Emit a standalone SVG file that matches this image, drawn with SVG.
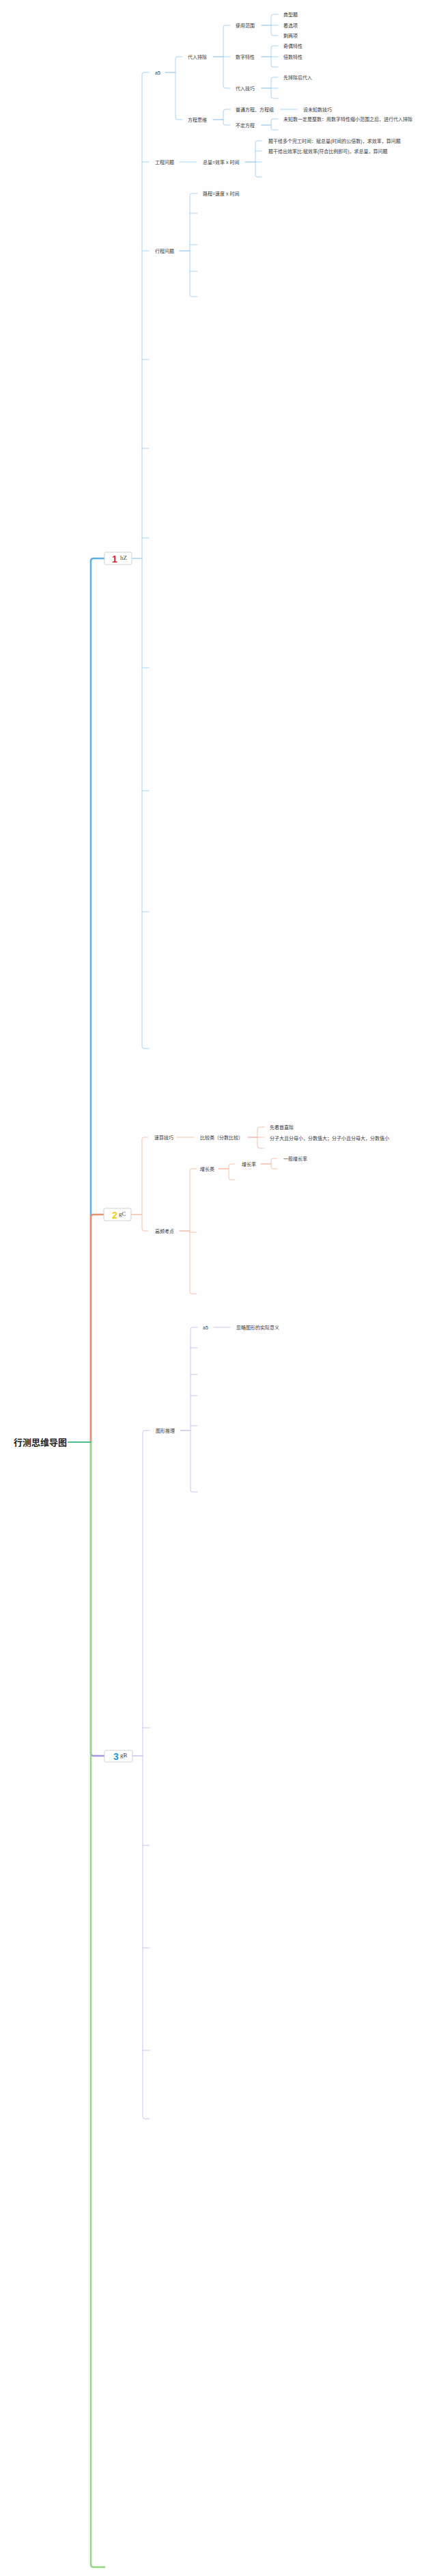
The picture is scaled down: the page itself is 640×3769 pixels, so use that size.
<svg xmlns="http://www.w3.org/2000/svg" width="640" height="3769" viewBox="0 0 640 3769">
<style>
.t{font-family:"Liberation Sans","Noto Sans CJK SC",sans-serif;font-size:7px;fill:#3a3a3a;dominant-baseline:central}
.root{font-family:"Liberation Sans","Noto Sans CJK SC",sans-serif;font-size:13px;font-weight:bold;fill:#222;dominant-baseline:central}
.num{font-family:"Liberation Sans",sans-serif;font-size:14px;font-weight:bold;dominant-baseline:central}
.lbl{font-family:"Liberation Serif",serif;font-size:9px;fill:#444;dominant-baseline:central}
.box{fill:#fff;stroke:#c9d6cf;stroke-width:1}
path,line{fill:none;stroke-linecap:round}
.b1{stroke:#a9d4f2;stroke-width:1}
.b1c{stroke:#7fbbe6;stroke-width:1}
.b2{stroke:#f6c0aa;stroke-width:1}
.b2c{stroke:#ec9b7c;stroke-width:1}
.b3{stroke:#cbc3f1;stroke-width:1}
.b3c{stroke:#b0a5e6;stroke-width:1}
</style>
<rect width="640" height="3769" fill="#fefefe"/>
<g id="connectors">
  <!-- trunk -->
  <path d="M133,2110 V821 Q133,817 137,817 H153" stroke="#5eaee4" stroke-width="2.5"/>
  <path d="M133,2110 V1781 Q133,1777 137,1777 H152" stroke="#e5926f" stroke-width="2.5"/>
  <path d="M133,2110 V2565 Q133,2569 137,2569 H153" stroke="#a597e0" stroke-width="2.5"/>
  <path d="M133,2110 V3752 Q133,3756 137,3756 H153" stroke="#95d883" stroke-width="2.5"/>
  <line x1="100" y1="2110" x2="133" y2="2110" stroke="#4fbf8c" stroke-width="2"/>

  <!-- branch 1 -->
  <line class="b1c" x1="193" y1="817" x2="208" y2="817"/>
  <path class="b1" d="M218,106 H211 Q208,106 208,109 V1531 Q208,1534 211,1534 H218"/>
  <line class="b1" x1="208" y1="237" x2="218" y2="237"/>
  <line class="b1" x1="208" y1="367" x2="218" y2="367"/>
  <line class="b1" x1="208" y1="526" x2="218" y2="526"/>
  <line class="b1" x1="208" y1="656" x2="218" y2="656"/>
  <line class="b1" x1="208" y1="787" x2="218" y2="787"/>
  <line class="b1" x1="208" y1="977" x2="218" y2="977"/>
  <line class="b1" x1="208" y1="1157" x2="218" y2="1157"/>
  <line class="b1" x1="208" y1="1334" x2="218" y2="1334"/>

  <line class="b1c" x1="242" y1="106" x2="257" y2="106"/>
  <path class="b1" d="M267,83 H260 Q257,83 257,86 V172 Q257,175 260,175 H267"/>

  <line class="b1c" x1="312" y1="83" x2="327" y2="83"/>
  <path class="b1" d="M337,37 H330 Q327,37 327,40 V126 Q327,129 330,129 H337"/>
  <line class="b1" x1="327" y1="83" x2="337" y2="83"/>

  <line class="b1c" x1="383" y1="37" x2="397" y2="37"/>
  <path class="b1" d="M407,21 H400 Q397,21 397,24 V49 Q397,52 400,52 H407"/>
  <line class="b1" x1="397" y1="37" x2="407" y2="37"/>

  <line class="b1c" x1="383" y1="83" x2="397" y2="83"/>
  <path class="b1" d="M407,67 H400 Q397,67 397,70 V95 Q397,98 400,98 H407"/>
  <line class="b1" x1="397" y1="83" x2="407" y2="83"/>

  <line class="b1c" x1="383" y1="129" x2="397" y2="129"/>
  <path class="b1" d="M407,113 H400 Q397,113 397,116 V141 Q397,144 400,144 H407"/>
  <line class="b1" x1="397" y1="129" x2="407" y2="129"/>

  <line class="b1c" x1="312" y1="175" x2="327" y2="175"/>
  <path class="b1" d="M337,160 H330 Q327,160 327,163 V180 Q327,183 330,183 H337"/>
  <line class="b1" x1="410" y1="160" x2="435" y2="160"/>
  <line class="b1c" x1="383" y1="183" x2="397" y2="183"/>
  <path class="b1" d="M407,174 H400 Q397,174 397,177 V187 Q397,190 400,190 H407"/>

  <line class="b1" x1="263" y1="237" x2="288" y2="237"/>
  <line class="b1c" x1="359" y1="237" x2="374" y2="237"/>
  <path class="b1" d="M383,206 H377 Q374,206 374,209 V256 Q374,259 377,259 H383"/>
  <line class="b1" x1="374" y1="221" x2="383" y2="221"/>
  <line class="b1" x1="374" y1="237" x2="383" y2="237"/>

  <line class="b1c" x1="263" y1="367" x2="278" y2="367"/>
  <path class="b1" d="M289,283 H281 Q278,283 278,286 V431 Q278,434 281,434 H289"/>
  <line class="b1" x1="278" y1="312" x2="289" y2="312"/>
  <line class="b1" x1="278" y1="358" x2="289" y2="358"/>
  <line class="b1" x1="278" y1="397" x2="289" y2="397"/>

  <!-- branch 2 -->
  <line class="b2c" x1="192" y1="1777" x2="208" y2="1777"/>
  <path class="b2" d="M217,1664 H211 Q208,1664 208,1667 V1798 Q208,1801 211,1801 H217"/>
  <line class="b2" x1="259" y1="1664" x2="284" y2="1664"/>
  <line class="b2c" x1="363" y1="1664" x2="377" y2="1664"/>
  <path class="b2" d="M387,1649 H380 Q377,1649 377,1652 V1677 Q377,1680 380,1680 H387"/>
  <line class="b2" x1="377" y1="1664" x2="387" y2="1664"/>

  <line class="b2c" x1="263" y1="1801" x2="278" y2="1801"/>
  <path class="b2" d="M288,1710 H281 Q278,1710 278,1713 V1890 Q278,1893 281,1893 H288"/>
  <line class="b2" x1="278" y1="1803" x2="288" y2="1803"/>
  <line class="b2c" x1="320" y1="1710" x2="335" y2="1710"/>
  <path class="b2" d="M344,1703 H338 Q335,1703 335,1706 V1723 Q335,1726 338,1726 H344"/>
  <line class="b2c" x1="382" y1="1703" x2="397" y2="1703"/>
  <path class="b2" d="M406,1695 H400 Q397,1695 397,1698 V1707 Q397,1710 400,1710 H406"/>

  <!-- branch 3 -->
  <line class="b3c" x1="194" y1="2569" x2="209" y2="2569"/>
  <path class="b3" d="M219,2093 H212 Q209,2093 209,2096 V3097 Q209,3100 212,3100 H219"/>
  <line class="b3" x1="209" y1="2528" x2="219" y2="2528"/>
  <line class="b3" x1="209" y1="2700" x2="219" y2="2700"/>
  <line class="b3" x1="209" y1="2850" x2="219" y2="2850"/>
  <line class="b3" x1="209" y1="3000" x2="219" y2="3000"/>
  <line class="b3c" x1="264" y1="2093" x2="279" y2="2093"/>
  <path class="b3" d="M289,1942 H282 Q279,1942 279,1945 V2180 Q279,2183 282,2183 H289"/>
  <line class="b3" x1="279" y1="1972" x2="289" y2="1972"/>
  <line class="b3" x1="279" y1="2011" x2="289" y2="2011"/>
  <line class="b3" x1="279" y1="2042" x2="289" y2="2042"/>
  <line class="b3" x1="279" y1="2086" x2="289" y2="2086"/>
  <line class="b3" x1="313" y1="1942" x2="337" y2="1942"/>
</g>

<g id="root"><text class="root" x="20" y="2110">行测思维导图</text></g>

<g id="n1">
  <rect class="box" x="153" y="808" width="40" height="18" rx="2"/>
  <text class="num" x="164" y="818" fill="#d8262c">1</text>
  <text class="lbl" x="176" y="816">hZ</text>
</g>
<g id="n1-a5"><text class="t" x="227" y="106">a5</text></g>
<g id="n1-dairu"><text class="t" x="275" y="83">代入排除</text></g>
<g id="n1-fanwei"><text class="t" x="345" y="37">使用范围</text></g>
<g id="n1-fw1"><text class="t" x="415" y="21">典型题</text></g>
<g id="n1-fw2"><text class="t" x="415" y="37">看选项</text></g>
<g id="n1-fw3"><text class="t" x="415" y="52">剩两项</text></g>
<g id="n1-shuzi"><text class="t" x="345" y="83">数字特性</text></g>
<g id="n1-sz1"><text class="t" x="415" y="67">奇偶特性</text></g>
<g id="n1-sz2"><text class="t" x="415" y="83">倍数特性</text></g>
<g id="n1-jiqiao"><text class="t" x="345" y="129">代入技巧</text></g>
<g id="n1-jq1"><text class="t" x="415" y="113">先排除后代入</text></g>
<g id="n1-fangcheng"><text class="t" x="275" y="175">方程思维</text></g>
<g id="n1-putong"><text class="t" x="345" y="160">普通方程、方程组</text></g>
<g id="n1-weizhi"><text class="t" x="444" y="160">设未知数技巧</text></g>
<g id="n1-buding"><text class="t" x="345" y="183">不定方程</text></g>
<g id="n1-bd1"><text class="t" x="415" y="174">未知数一定是整数：用数字特性缩小范围之后，进行代入排除</text></g>
<g id="n1-gongcheng"><text class="t" x="227" y="237">工程问题</text></g>
<g id="n1-zongliang"><text class="t" x="297" y="237">总量=效率 x 时间</text></g>
<g id="n1-gc1"><text class="t" x="393" y="206">题干给多个完工时间：赋总量(时间的公倍数)，求效率，算问题</text></g>
<g id="n1-gc2"><text class="t" x="393" y="221">题干给出效率比:赋效率(符合比例即可)，求总量，算问题</text></g>
<g id="n1-xingcheng"><text class="t" x="227" y="367">行程问题</text></g>
<g id="n1-lucheng"><text class="t" x="297" y="283">路程=速度 x 时间</text></g>

<g id="n2">
  <rect class="box" x="152" y="1768" width="40" height="18" rx="2"/>
  <text class="num" x="164" y="1778" fill="#f3cb22">2</text>
  <text class="lbl" x="174" y="1776">gC</text>
</g>
<g id="n2-susuan"><text class="t" x="226" y="1664">速算技巧</text></g>
<g id="n2-bijiao"><text class="t" x="293" y="1664">比较类（分数比较）</text></g>
<g id="n2-bj1"><text class="t" x="395" y="1649">先看首直除</text></g>
<g id="n2-bj2"><text class="t" x="395" y="1665">分子大且分母小，分数值大；分子小且分母大，分数值小</text></g>
<g id="n2-gaopin"><text class="t" x="227" y="1801">高频考点</text></g>
<g id="n2-zengzhang"><text class="t" x="293" y="1710">增长类</text></g>
<g id="n2-zzl"><text class="t" x="354" y="1703">增长率</text></g>
<g id="n2-yiban"><text class="t" x="415" y="1695">一般增长率</text></g>

<g id="n3">
  <rect class="box" x="153" y="2561" width="41" height="17" rx="2"/>
  <text class="num" x="166" y="2570" fill="#1d9be0">3</text>
  <text class="lbl" x="176" y="2568">gR</text>
</g>
<g id="n3-tuxing"><text class="t" x="228" y="2093">图形推理</text></g>
<g id="n3-a5"><text class="t" x="297" y="1942">a5</text></g>
<g id="n3-hulue"><text class="t" x="346" y="1942">忽略图形的实际意义</text></g>
</svg>
